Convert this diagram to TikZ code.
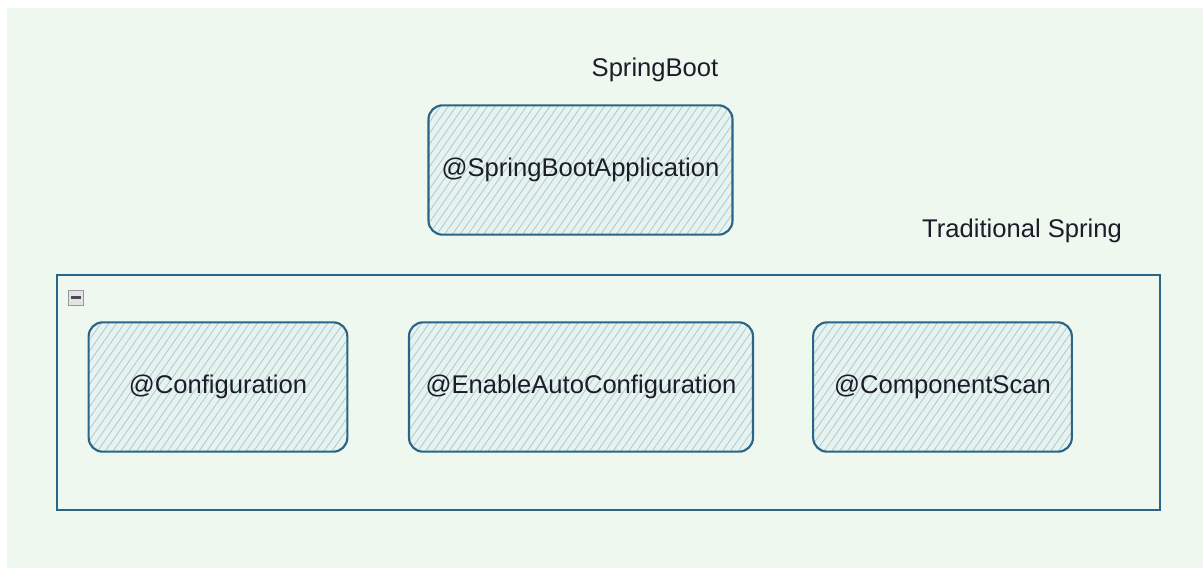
\documentclass[tikz,border=0pt]{standalone}
\usepackage{fontspec}
\setmainfont{Liberation Sans}
\usetikzlibrary{patterns.meta}
\definecolor{bgpage}{HTML}{EFF8EE}
\definecolor{boxline}{HTML}{2A6587}
\definecolor{boxfill}{HTML}{E6F4F1}
\definecolor{hatch}{HTML}{B3C8C6}
\definecolor{inktext}{HTML}{1C1C2A}
\tikzset{
  px/.style={x=0.75pt,y=-0.75pt},
  annot/.style={draw=boxline,line width=1.6pt,rounded corners=10.5pt,
    preaction={fill=boxfill},
    pattern={Lines[angle=55,distance=4.8pt,line width=0.6pt]},pattern color=hatch,
    text=inktext,font=\fontsize{19.2}{23}\selectfont,inner sep=0pt},
  caption/.style={text=inktext,font=\fontsize{19.2}{23}\selectfont,inner sep=0pt},
  groupbox/.style={draw=boxline,line width=1.3pt,inner sep=0pt}
}
\begin{document}
\begin{tikzpicture}[px]
  \useasboundingbox (0,0) rectangle (1203,568);
  \fill[white] (0,0) rectangle (1203,568);
  \fill[bgpage] (7,8) rectangle (1203,568);

  % top-level annotation
  \node[caption] (sbl) at (655,70) {SpringBoot};
  \node[annot,minimum width=228pt,minimum height=97pt] (sba) at (580.5,170) {@SpringBootApplication};

  % container of the traditional annotations
  \node[caption] (tsl) at (1022,231) {Traditional Spring};
  \node[groupbox,minimum width=827pt,minimum height=176pt] (grp) at (608.5,392.5) {};
  \node[draw=gray!80,fill=gray!22,line width=0.5pt,minimum size=11.5pt,inner sep=0pt] (tog) at (76,297.5) {};
  \draw[line width=1.8pt,inktext!80] ([xshift=-3.5pt]tog.center) -- ([xshift=3.5pt]tog.center);

  \node[annot,minimum width=194pt,minimum height=97pt] (cfg) at (218,387) {@Configuration};
  \node[annot,minimum width=258pt,minimum height=97pt] (eac) at (581,387) {@EnableAutoConfiguration};
  \node[annot,minimum width=194pt,minimum height=97pt] (cs) at (942.5,387) {@ComponentScan};
\end{tikzpicture}
\end{document}
